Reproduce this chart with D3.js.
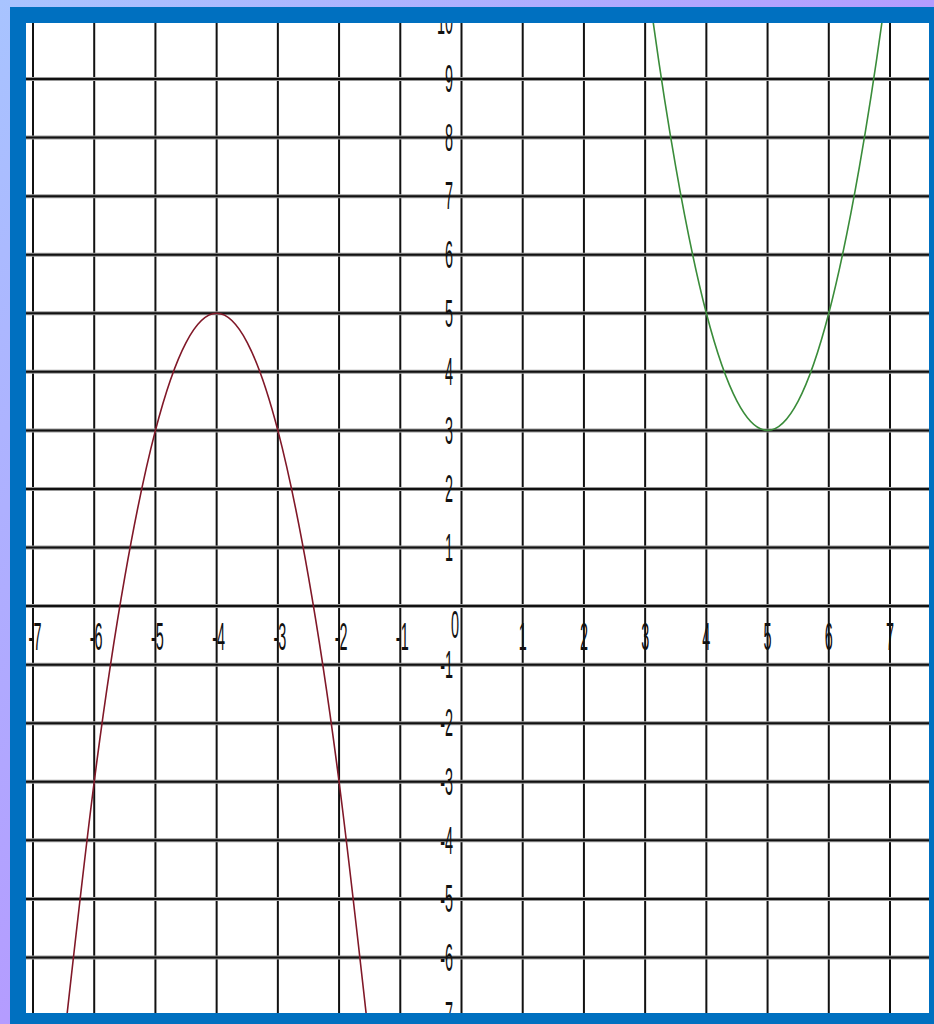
<!DOCTYPE html>
<html lang="en">
<head>
    <meta charset="UTF-8">
    <title>Parabolas on a grid</title>
    <script src="https://d3js.org/d3.v7.min.js"></script>
    <style>
        body { margin: 0; overflow: hidden; }
        svg { display: block; }
        .lbl { font-family: "Liberation Sans", Arial, sans-serif; font-size: 38px; fill: #111; }
    </style>
</head>
<body>
    <svg id="chart" width="934" height="1024"></svg>

    <script>
        // tick values on each axis
        const xTicks = [-7, -6, -5, -4, -3, -2, -1, 0, 1, 2, 3, 4, 5, 6, 7];
        const yTicks = [-7, -6, -5, -4, -3, -2, -1, 0, 1, 2, 3, 4, 5, 6, 7, 8, 9, 10];

        // red curve, points read where it crosses the grid
        const redX = [-6.5, -6, -5.5, -5, -4.5, -4, -3.5, -3, -2.5, -2, -1.5];
        const redY = [-7.5, -3, 0.5, 3, 4.5, 5, 4.5, 3, 0.5, -3, -7.5];

        // green curve
        const greenX = [2.5, 3, 3.5, 4, 4.5, 5, 5.5, 6, 6.5, 7, 7.5];
        const greenY = [15.5, 11, 7.5, 5, 3.5, 3, 3.5, 5, 7.5, 11, 15.5];

        const svg = d3.select("#chart");
        const W = 934, H = 1024;
        const plot = { left: 26, top: 23, right: 929, bottom: 1013 };

        // background gradient + blue frame
        const defs = svg.append("defs");
        const grad = defs.append("linearGradient").attr("id", "bg")
            .attr("x1", "0%").attr("y1", "0%").attr("x2", "100%").attr("y2", "100%");
        grad.append("stop").attr("offset", "0%").attr("stop-color", "#a8c4ff");
        grad.append("stop").attr("offset", "50%").attr("stop-color", "#b49cff");
        grad.append("stop").attr("offset", "100%").attr("stop-color", "#9a66ff");

        defs.append("clipPath").attr("id", "plotClip")
            .append("rect")
            .attr("x", plot.left).attr("y", plot.top)
            .attr("width", plot.right - plot.left).attr("height", plot.bottom - plot.top);

        svg.append("rect").attr("width", W).attr("height", H).attr("fill", "url(#bg)");
        svg.append("rect").attr("x", 10).attr("y", 7).attr("width", W - 10).attr("height", H - 7)
            .attr("fill", "#0070c0");
        svg.append("rect")
            .attr("x", plot.left).attr("y", plot.top)
            .attr("width", plot.right - plot.left).attr("height", plot.bottom - plot.top)
            .attr("fill", "#fff");

        const x = d3.scaleLinear().domain([-7, 7]).range([33, 890]);
        const y = d3.scaleLinear().domain([-7, 10]).range([1016, 20.5]);

        const g = svg.append("g").attr("clip-path", "url(#plotClip)");

        // grid
        g.selectAll(".vline").data(xTicks).enter().append("line")
            .attr("x1", d => x(d)).attr("x2", d => x(d))
            .attr("y1", plot.top).attr("y2", plot.bottom)
            .attr("stroke", "#111").attr("stroke-width", 2);

        g.selectAll(".hline").data(yTicks).enter().append("line")
            .attr("x1", plot.left).attr("x2", plot.right)
            .attr("y1", d => y(d)).attr("y2", d => y(d))
            .attr("stroke", "#999").attr("stroke-width", 4);
        g.selectAll(".hline2").data(yTicks).enter().append("line")
            .attr("x1", plot.left).attr("x2", plot.right)
            .attr("y1", d => y(d)).attr("y2", d => y(d))
            .attr("stroke", "#111").attr("stroke-width", 2);

        // labels, narrow like the original
        const sx = 0.38;
        const xLab = g.selectAll(".xl").data(xTicks.filter(d => d !== 0)).enter().append("g")
            .attr("transform", d => `translate(${x(d) + (d < 0 ? 2 : 0)},637) scale(${sx},1)`);
        xLab.append("text").attr("class", "lbl")
            .attr("text-anchor", "middle").attr("dominant-baseline", "central")
            .text(d => d);

        const yLab = g.selectAll(".yl").data(yTicks.filter(d => d !== 0)).enter().append("g")
            .attr("transform", d => `translate(453,${y(d)}) scale(${sx},1)`);
        yLab.append("text").attr("class", "lbl")
            .attr("text-anchor", "end").attr("dominant-baseline", "central")
            .text(d => d);

        g.append("g").attr("transform", `translate(455,625) scale(${sx},1)`)
            .append("text").attr("class", "lbl")
            .attr("text-anchor", "middle").attr("dominant-baseline", "central")
            .text("0");

        // curves
        const line = d3.line().x(d => x(d[0])).y(d => y(d[1])).curve(d3.curveNatural);

        g.append("path")
            .datum(redX.map((v, i) => [v, redY[i]]))
            .attr("d", line)
            .attr("fill", "none").attr("stroke", "#801828").attr("stroke-width", 1.6);

        g.append("path")
            .datum(greenX.map((v, i) => [v, greenY[i]]))
            .attr("d", line)
            .attr("fill", "none").attr("stroke", "#3a8c3a").attr("stroke-width", 1.6);
    </script>
</body>
</html>
